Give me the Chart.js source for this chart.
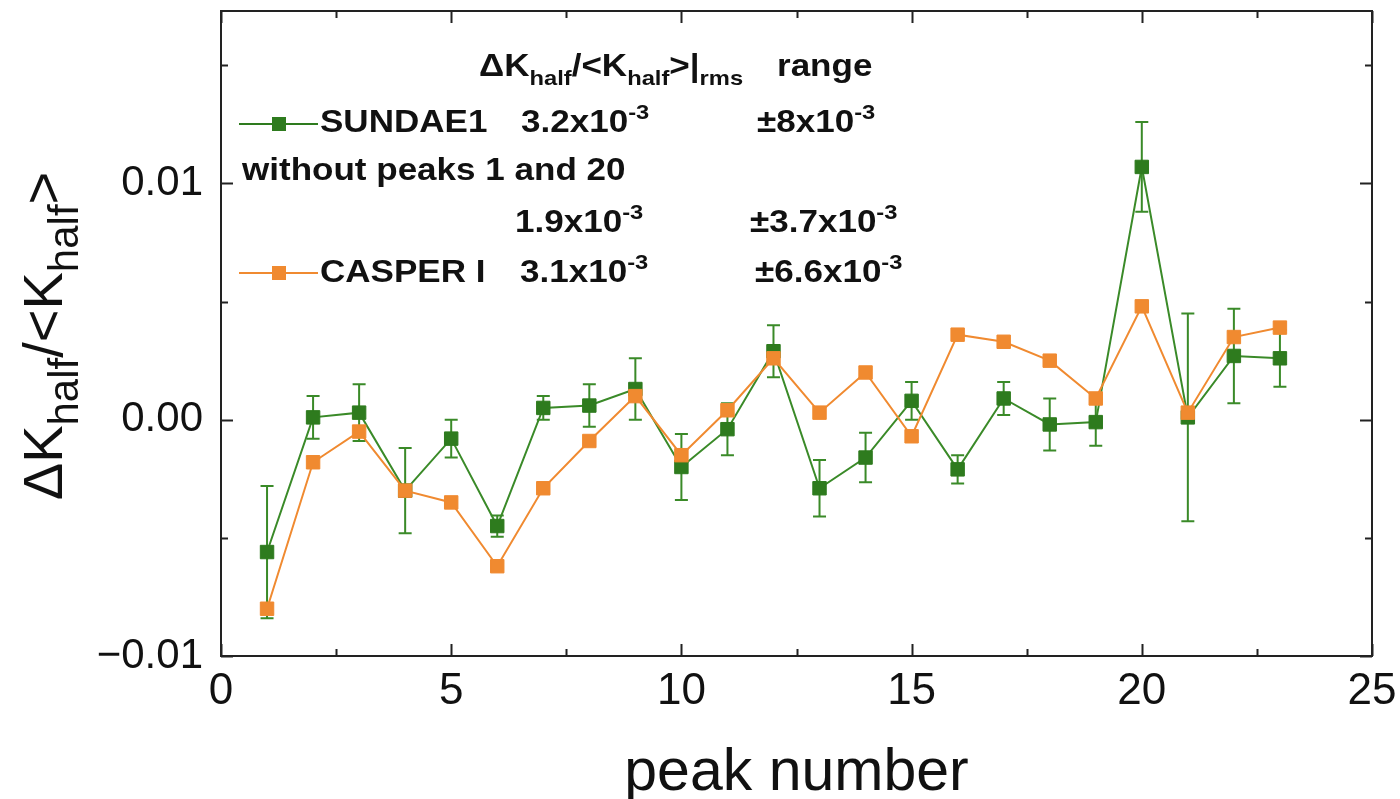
<!DOCTYPE html>
<html>
<head>
<meta charset="utf-8">
<script src="https://cdn.jsdelivr.net/npm/chart.js@4.4.1/dist/chart.umd.min.js"></script>
<style>
  html, body { margin: 0; padding: 0; background: #ffffff; }
  #wrap { width: 1400px; height: 799px; position: relative; }
</style>
</head>
<body>
<div id="wrap"><canvas id="c" width="1400" height="799"></canvas></div>
<script>
// Peak index along the x axis
const peaks = [1, 2, 3, 4, 5, 6, 7, 8, 9, 10, 11, 12, 13, 14, 15, 16, 17, 18, 19, 20, 21, 22, 23];

// SUNDAE1: relative deviation of K_half per peak, with its uncertainty
const sundaeValues = [-0.0056, 0.0001, 0.0003, -0.0030, -0.0008, -0.0045, 0.0005, 0.0006, 0.0013, -0.0020,
                      -0.0004, 0.0029, -0.0029, -0.0016, 0.0008, -0.0021, 0.0009, -0.0002, -0.0001, 0.0107,
                      0.0001, 0.0027, 0.0026];
const sundaeErrors = [0.0028, 0.0009, 0.0012, 0.0018, 0.0008, 0.00045, 0.0005, 0.0009, 0.0013, 0.0014,
                      0.0011, 0.0011, 0.0012, 0.00105, 0.0008, 0.0006, 0.0007, 0.0011, 0.0010, 0.0019,
                      0.0044, 0.0020, 0.0012];

// CASPER I: relative deviation of K_half per peak
const casperValues = [-0.0080, -0.0018, -0.0005, -0.0030, -0.0035, -0.0062, -0.0029, -0.0009, 0.0010, -0.0015,
                      0.0004, 0.0026, 0.0003, 0.0020, -0.0007, 0.0036, 0.0033, 0.0025, 0.0009, 0.0048,
                      0.0003, 0.0035, 0.0039];

// Axis ticks
const xTickValues = [0, 5, 10, 15, 20, 25];
const yTickValues = [-0.01, 0, 0.01];
const yTickLabels = ['\u22120.01', '0.00', '0.01'];
const xMinorTicks = [2.5, 7.5, 12.5, 17.5, 22.5];
const yMinorTicks = [-0.005, 0.005, 0.015];

const GREEN = '#2e7b1e';
const GREEN_LINE = '#3a8a28';
const ORANGE = '#f08a30';
const INK = '#111111';
const FONT = '"Liberation Sans", Arial, sans-serif';

// Draw a run of text pieces (normal / subscript / superscript), optionally stretched horizontally
function drawRich(ctx, x, y, parts, opt) {
  const sx = opt.sx || 1;
  let cx = x;
  for (const [txt, kind] of parts) {
    let size = opt.size, dy = 0;
    if (kind === 'sub') { size = opt.subSize; dy = opt.subShift; }
    if (kind === 'sup') { size = opt.subSize; dy = -opt.supShift; }
    ctx.font = (opt.weight || 'normal') + ' ' + size + 'px ' + FONT;
    ctx.save();
    ctx.translate(cx, y + dy);
    ctx.scale(sx, 1);
    ctx.fillText(txt, 0, 0);
    ctx.restore();
    cx += ctx.measureText(txt).width * sx + (opt.gap || 0);
  }
  return cx - x;
}
function richWidth(ctx, parts, opt) {
  const sx = opt.sx || 1;
  let w = 0;
  for (const [txt, kind] of parts) {
    const size = kind === 'n' ? opt.size : opt.subSize;
    ctx.font = (opt.weight || 'normal') + ' ' + size + 'px ' + FONT;
    w += ctx.measureText(txt).width * sx + (opt.gap || 0);
  }
  return w;
}

// Vertical error bars for the SUNDAE1 series
const errorBars = {
  id: 'errorBars',
  beforeDatasetsDraw(chart) {
    const ctx = chart.ctx, xs = chart.scales.x, ys = chart.scales.y;
    ctx.save();
    ctx.strokeStyle = GREEN_LINE;
    ctx.lineWidth = 2;
    const cap = 6.5;
    peaks.forEach((p, i) => {
      const x = xs.getPixelForValue(p);
      const yt = ys.getPixelForValue(sundaeValues[i] + sundaeErrors[i]);
      const yb = ys.getPixelForValue(sundaeValues[i] - sundaeErrors[i]);
      ctx.beginPath();
      ctx.moveTo(x, yt); ctx.lineTo(x, yb);
      ctx.moveTo(x - cap, yt); ctx.lineTo(x + cap, yt);
      ctx.moveTo(x - cap, yb); ctx.lineTo(x + cap, yb);
      ctx.stroke();
    });
    ctx.restore();
  }
};

// Plot frame with inward ticks on all four sides
const frame = {
  id: 'frame',
  afterDraw(chart) {
    const ctx = chart.ctx, a = chart.chartArea, xs = chart.scales.x, ys = chart.scales.y;
    ctx.save();
    ctx.strokeStyle = '#222222';
    ctx.lineWidth = 2;
    ctx.strokeRect(a.left, a.top, a.right - a.left, a.bottom - a.top);
    const major = 12, minor = 7;
    ctx.beginPath();
    const xt = (v, len) => {
      const x = Math.round(xs.getPixelForValue(v)) + 0.5;
      ctx.moveTo(x, a.bottom); ctx.lineTo(x, a.bottom - len);
      ctx.moveTo(x, a.top); ctx.lineTo(x, a.top + len);
    };
    const yt = (v, len) => {
      const y = Math.round(ys.getPixelForValue(v)) + 0.5;
      ctx.moveTo(a.left, y); ctx.lineTo(a.left + len, y);
      ctx.moveTo(a.right, y); ctx.lineTo(a.right - len, y);
    };
    xTickValues.forEach(v => xt(v, major));
    xMinorTicks.forEach(v => xt(v, minor));
    yTickValues.forEach(v => yt(v, major));
    yMinorTicks.forEach(v => yt(v, minor));
    ctx.stroke();
    ctx.restore();
  }
};

// Legend block with rms and range figures, plus both axis titles
const annotations = {
  id: 'annotations',
  afterDraw(chart) {
    const ctx = chart.ctx;
    ctx.save();
    ctx.fillStyle = INK;
    ctx.textBaseline = 'alphabetic';
    ctx.textAlign = 'left';
    const b = { size: 31, subSize: 21, subShift: 9, supShift: 13, weight: 'bold', sx: 1.13 };

    drawRich(ctx, 479, 76, [['\u0394K', 'n'], ['half', 'sub'], ['/<K', 'n'], ['half', 'sub'], ['>|', 'n'], ['rms', 'sub']], b);
    drawRich(ctx, 777, 76, [['range', 'n']], b);

    const sample = (y, color) => {
      ctx.save();
      ctx.strokeStyle = color; ctx.lineWidth = 2;
      ctx.beginPath(); ctx.moveTo(239, y); ctx.lineTo(318, y); ctx.stroke();
      ctx.fillStyle = color;
      ctx.fillRect(272, y - 7, 14, 14);
      ctx.restore();
    };
    sample(124, GREEN);
    sample(273, ORANGE);

    drawRich(ctx, 320, 132, [['SUNDAE1', 'n']], b);
    drawRich(ctx, 521, 132, [['3.2x10', 'n'], ['-3', 'sup']], b);
    drawRich(ctx, 757, 132, [['\u00b18x10', 'n'], ['-3', 'sup']], b);
    drawRich(ctx, 242, 180, [['without peaks 1 and 20', 'n']], b);
    drawRich(ctx, 515, 232, [['1.9x10', 'n'], ['-3', 'sup']], b);
    drawRich(ctx, 750, 232, [['\u00b13.7x10', 'n'], ['-3', 'sup']], b);
    drawRich(ctx, 320, 282, [['CASPER I', 'n']], b);
    drawRich(ctx, 520, 282, [['3.1x10', 'n'], ['-3', 'sup']], b);
    drawRich(ctx, 755, 282, [['\u00b16.6x10', 'n'], ['-3', 'sup']], b);

    // y axis title, rotated
    const t = { size: 56, subSize: 42, subShift: 16, supShift: 0, weight: 'normal', sx: 1 };
    const yParts = [['\u0394K', 'n'], ['half', 'sub'], ['/<K', 'n'], ['half', 'sub'], ['>', 'n']];
    const a = chart.chartArea;
    const w = richWidth(ctx, yParts, t);
    ctx.save();
    ctx.translate(62, 336);
    ctx.rotate(-Math.PI / 2);
    drawRich(ctx, -w / 2, 0, yParts, t);
    ctx.restore();

    // x axis title
    ctx.font = 'normal 59px ' + FONT;
    ctx.textAlign = 'center';
    ctx.fillText('peak number', (a.left + a.right) / 2, 790);
    ctx.restore();
  }
};

new Chart(document.getElementById('c'), {
  type: 'line',
  data: {
    datasets: [
      {
        label: 'SUNDAE1',
        data: peaks.map((p, i) => ({ x: p, y: sundaeValues[i] })),
        borderColor: GREEN_LINE,
        backgroundColor: GREEN,
        borderWidth: 2,
        pointStyle: 'rect',
        pointRadius: 9.5,
        pointBorderWidth: 1,
        pointBorderColor: GREEN,
        pointBackgroundColor: GREEN,
        tension: 0,
        order: 2
      },
      {
        label: 'CASPER I',
        data: peaks.map((p, i) => ({ x: p, y: casperValues[i] })),
        borderColor: ORANGE,
        backgroundColor: ORANGE,
        borderWidth: 2,
        pointStyle: 'rect',
        pointRadius: 9.5,
        pointBorderWidth: 1,
        pointBorderColor: ORANGE,
        pointBackgroundColor: ORANGE,
        tension: 0,
        order: 1
      }
    ]
  },
  options: {
    responsive: false,
    animation: false,
    devicePixelRatio: 1,
    layout: { padding: { left: 0, top: 11, right: 28, bottom: 0 } },
    plugins: { legend: { display: false }, tooltip: { enabled: false }, title: { display: false } },
    scales: {
      x: {
        type: 'linear',
        min: 0,
        max: 25,
        afterBuildTicks: s => { s.ticks = xTickValues.map(v => ({ value: v })); },
        afterFit: s => { s.height = 143; s.paddingLeft = 0; s.paddingRight = 0; },
        grid: { display: false, drawTicks: false },
        border: { display: false },
        ticks: {
          font: { family: FONT, size: 44 },
          color: INK,
          padding: 9,
          maxRotation: 0,
          autoSkip: false,
          callback: v => String(v)
        }
      },
      y: {
        type: 'linear',
        min: -0.01,
        max: 0.0173,
        afterBuildTicks: s => { s.ticks = yTickValues.map(v => ({ value: v })); },
        afterFit: s => { s.width = 221; s.paddingTop = 0; s.paddingBottom = 0; },
        grid: { display: false, drawTicks: false },
        border: { display: false },
        ticks: {
          font: { family: FONT, size: 42 },
          color: INK,
          padding: 18,
          autoSkip: false,
          callback: v => yTickLabels[yTickValues.findIndex(t => Math.abs(t - v) < 1e-9)]
        }
      }
    }
  },
  plugins: [errorBars, frame, annotations]
});
</script>
</body>
</html>
